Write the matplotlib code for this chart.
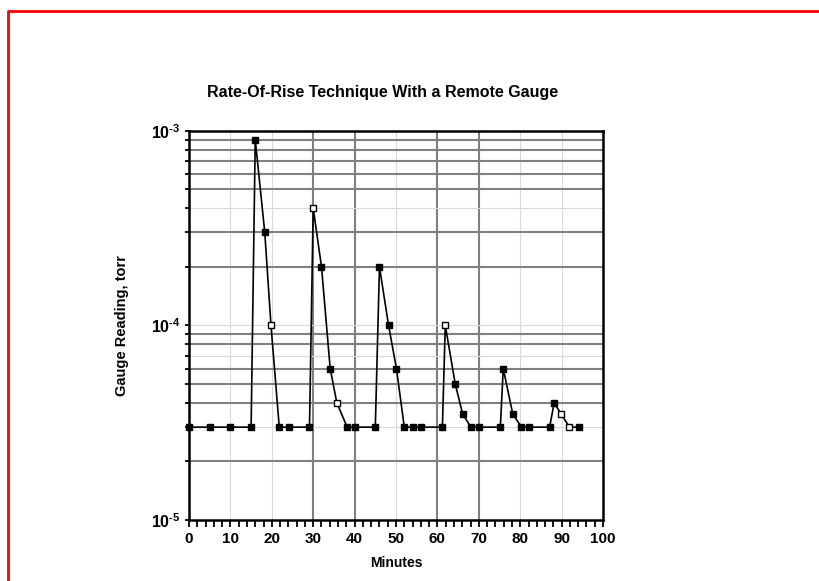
import numpy as np
import matplotlib
matplotlib.use('Agg')
import matplotlib.pyplot as plt
from matplotlib.ticker import FixedLocator, FuncFormatter
from matplotlib.lines import Line2D

plt.rcParams['font.family'] = ['Liberation Sans', 'DejaVu Sans']
plt.rcParams['mathtext.fontset'] = 'custom'
plt.rcParams['mathtext.rm'] = 'Liberation Sans:bold'
plt.rcParams['mathtext.bf'] = 'Liberation Sans:bold'
plt.rcParams['mathtext.it'] = 'Liberation Sans:bold'
plt.rcParams['mathtext.default'] = 'rm'

# lecturas del manometro remoto
minutes = [0, 5, 10, 15, 16, 18.3, 19.8, 21.8, 24.2, 29.1, 30, 32, 34.1, 35.7,
           38.2, 40.2, 45, 46, 48.2, 50.1, 52, 54.1, 56, 61.2, 61.9, 64.3, 66.1,
           68.1, 70.1, 75.2, 75.9, 78.2, 80.3, 82, 87.1, 88.2, 89.9, 91.9, 94.3]
readings = [3e-5, 3e-5, 3e-5, 3e-5, 9e-4, 3e-4, 1e-4, 3e-5, 3e-5, 3e-5, 4e-4, 2e-4,
            6e-5, 4e-5, 3e-5, 3e-5, 3e-5, 2e-4, 1e-4, 6e-5, 3e-5, 3e-5, 3e-5, 3e-5,
            1e-4, 5e-5, 3.5e-5, 3e-5, 3e-5, 3e-5, 6e-5, 3.5e-5, 3e-5, 3e-5, 3e-5,
            4e-5, 3.5e-5, 3e-5, 3e-5]
open_pts = [6, 10, 13, 24, 36, 37]

title = 'Rate-Of-Rise Technique With a Remote Gauge'
xlabel = 'Minutes'
ylabel = 'Gauge Reading, torr'

x = np.array(minutes)
y = np.array(readings)
is_open = np.zeros(len(x), dtype=bool)
is_open[open_pts] = True

fig = plt.figure(figsize=(8.2, 5.81), dpi=100)
ax = fig.add_axes([0.2305, 0.105, 0.5049, 0.670])
ax.set_yscale('log')
ax.set_xlim(0, 100)
ax.set_ylim(1e-5, 1e-3)

# grilla: algunas lineas claras, otras oscuras (como el original)
light_x = [10, 20, 50, 80, 90]
for v in range(10, 100, 10):
    if v in light_x:
        ax.axvline(v, color='#d9d9d9', lw=0.8, zorder=1)
    else:
        ax.axvline(v, color='#808080', lw=1.5, zorder=1)
light_y = [1e-4, 4e-4, 7e-5, 3e-5]
for dec in [1e-5, 1e-4]:
    for m in range(1, 10):
        v = dec * m
        if v <= 1e-5 or v >= 1e-3:
            continue
        if any(np.isclose(v, l) for l in light_y):
            ax.axhline(v, color='#d9d9d9', lw=0.8, zorder=1)
        else:
            ax.axhline(v, color='#808080', lw=1.5, zorder=1)

ax.plot(x, y, color='black', lw=1.2, zorder=3)
ax.plot(x[~is_open], y[~is_open], ls='none', marker='s', ms=4,
        mfc='black', mec='black', zorder=6, clip_on=False)
ax.plot(x[is_open], y[is_open], ls='none', marker='s', ms=4,
        mfc='white', mec='black', mew=1.0, zorder=6, clip_on=False)

ax.xaxis.set_major_locator(FixedLocator(np.arange(0, 101, 10)))
ax.xaxis.set_minor_locator(FixedLocator(np.arange(0, 101, 2)))
ax.yaxis.set_major_locator(FixedLocator([1e-5, 1e-4, 1e-3]))
ax.yaxis.set_minor_locator(FixedLocator([d * m for d in [1e-5, 1e-4] for m in range(2, 10)]))
ax.yaxis.set_major_formatter(FuncFormatter(lambda v, p: r'$10^{\text{-%d}}$' % -round(np.log10(v))))
ax.yaxis.set_minor_formatter(FuncFormatter(lambda v, p: ''))

ax.tick_params(axis='x', which='both', direction='out', length=5, width=1.3, pad=4)
ax.tick_params(axis='y', which='both', direction='out', length=3, width=1.3, pad=3)
ax.tick_params(axis='x', labelsize=11)
ax.tick_params(axis='y', labelsize=11.5)
for lab in ax.get_xticklabels():
    lab.set_fontweight('bold')

for s in ax.spines.values():
    s.set_linewidth(1.8)
    s.set_zorder(5)

ax.set_xlabel(xlabel, fontsize=10, fontweight='bold', labelpad=7)
ax.set_ylabel(ylabel, fontsize=10.5, fontweight='bold', labelpad=16)
fig.text(383 / 820, 1 - 93 / 581, title, ha='center', va='center',
         fontsize=11.5, fontweight='bold')

# marco rojo
fig.add_artist(Line2D([8 / 820, 8 / 820, 1], [0, 1 - 11 / 581, 1 - 11 / 581],
                      color='red', lw=2, transform=fig.transFigure))

plt.savefig('out.png', dpi=100)
plt.close()
